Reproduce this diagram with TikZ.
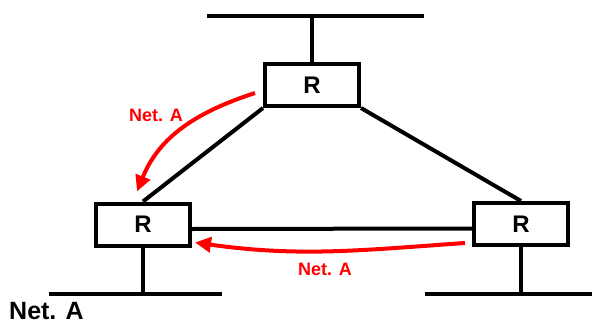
\documentclass[tikz,border=0pt]{standalone}
\usepackage{fontspec}
\setmainfont{Liberation Sans}
\usepackage{xcolor}
\usetikzlibrary{arrows.meta, positioning}

\begin{document}
\begin{tikzpicture}[
x=1pt, y=1pt,
router/.style={rectangle, draw, line width=4pt, minimum width=94pt, minimum height=42pt, inner sep=0pt, font=\fontsize{24}{28}\selectfont\bfseries},
bus/.style={line width=4pt},
link/.style={line width=4pt},
netarrow/.style={-{Triangle[length=16pt,width=15pt]}, red, line width=4pt},
netlabel/.style={red, font=\fontsize{18}{20}\selectfont\bfseries}
]
\useasboundingbox (0,0) rectangle (592,325);

% routers
\node[router] (rtop) at (312,240) {R};
\node[router] (rleft) at (143,100.5) {R};
\node[router] (rright) at (521,101) {R};

% buses
\coordinate (bustopl) at (207,309);
\coordinate (bustopr) at (424,309);
\coordinate (busleftl) at (49,31);
\coordinate (busleftr) at (222,31);
\coordinate (busrightl) at (425,31);
\coordinate (busrightr) at (592,31);

\draw[bus] (bustopl) -- (bustopr);
\draw[bus] (busleftl) -- (busleftr);
\draw[bus] (busrightl) -- (busrightr);

\draw[link] (rtop.north) -- (rtop.north |- bustopl);
\draw[link] (rleft.south) -- (rleft.south |- busleftl);
\draw[link] (rright.south) -- (rright.south |- busrightl);

% links between routers
\draw[link] (rtop.south west) -- (rleft.north);
\draw[link] (rtop.south east) -- (rright.north);
\draw[link] ([yshift=-4.5pt]rleft.east) -- ([yshift=-4.5pt]rright.west);

% Net. A routes
\draw[netarrow] ([xshift=-8pt,yshift=-8pt]rtop.west) to[out=198,in=68] ([xshift=-6pt,yshift=10pt]rleft.north);
\draw[netarrow] ([xshift=-7pt,yshift=4pt]rright.south west) to[out=184,in=-8] ([xshift=3pt,yshift=5pt]rleft.south east);

\node[netlabel] (labtop) at (156,210) {Net. A};
\node[netlabel] (labmid) at (325,56) {Net. A};
\node[anchor=west, inner sep=0pt, font=\fontsize{25}{28}\selectfont\bfseries] (neta) at (9,14) {Net. A};

\end{tikzpicture}
\end{document}
